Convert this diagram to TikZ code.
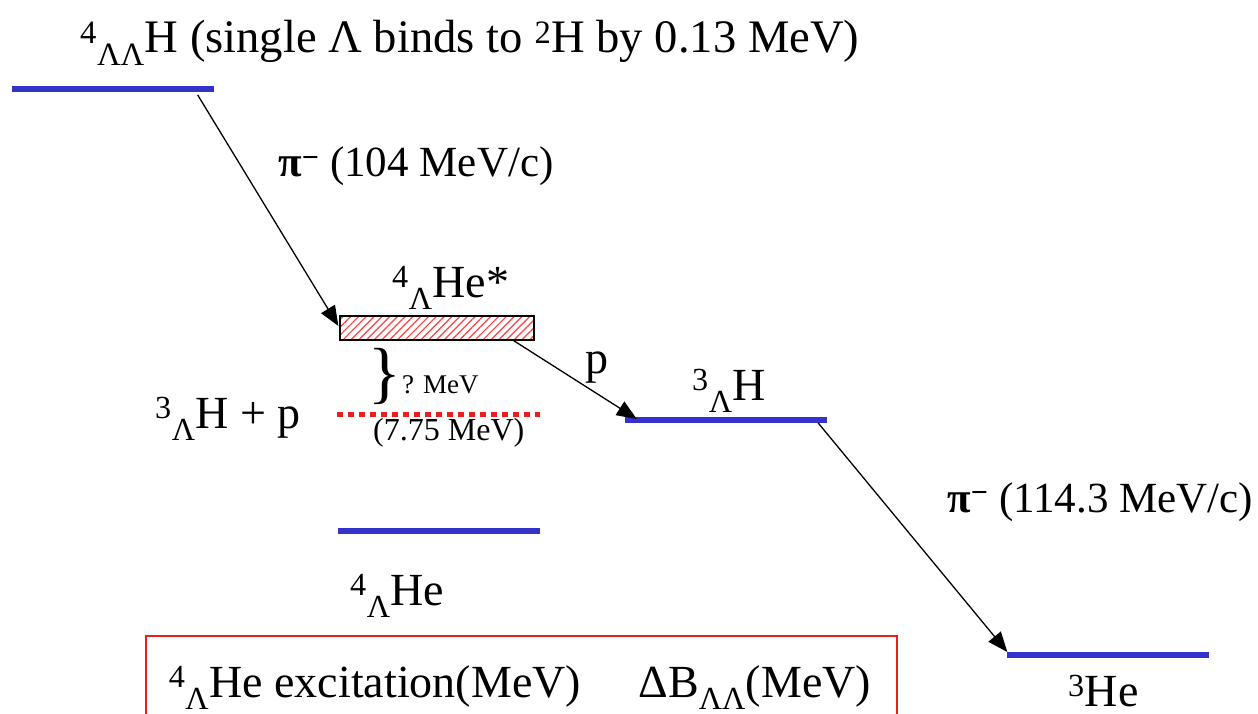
\documentclass[tikz,border=0pt]{standalone}
\usepackage{fontspec}
\setmainfont{Liberation Serif}
\usepackage{tikz}
\usetikzlibrary{arrows.meta,positioning,calc,patterns.meta}
\definecolor{lvlblue}{RGB}{51,51,204}
\definecolor{boxred}{RGB}{235,30,30}

\begin{document}
\begin{tikzpicture}[
  x=1pt,y=-1pt,
  level/.style={rectangle,fill=lvlblue,minimum width=202pt,minimum height=6pt,inner sep=0pt},
  excbox/.style={rectangle,draw=black,line width=1.5pt,minimum width=194pt,minimum height=24pt,inner sep=0pt,
    pattern={Lines[angle=45,distance=5.5pt,line width=1.2pt]},pattern color=red!75},
  trans/.style={-{Triangle[length=20pt,width=16pt]},line width=1.3pt},
  lbl/.style={font=\fontsize{46}{55}\selectfont,inner sep=0pt,anchor=base west},
  pilbl/.style={font=\fontsize{43}{52}\selectfont,inner sep=0pt,anchor=base west},
  small/.style={font=\fontsize{#1}{#1}\selectfont,inner sep=0pt,anchor=base west},
  tabbox/.style={rectangle,draw=boxred,line width=2pt,minimum width=751pt,minimum height=110pt,inner sep=0pt}
]
  \clip (0,0) rectangle (1258,714);

  % levels
  \node[level] (hh) at (112.5,89) {};
  \node[excbox] (exc) at (437,328) {};
  \node[level] (he4) at (438.5,531) {};
  \node[level] (h3) at (726,420) {};
  \node[level] (he3) at (1107.5,655) {};
  \coordinate (thl) at (337,414);
  \coordinate (thr) at (540,414);
  \draw[boxred,line width=5pt,dash pattern=on 6pt off 5pt] (thl) -- (thr);

  % labels
  \node[lbl,font=\fontsize{46.6}{55}\selectfont] (hhlbl) at (80,53) {\textsuperscript{4}\textsubscript{ΛΛ}H (single Λ binds to \textsuperscript{2}H by 0.13 MeV)};
  \node[pilbl] (pi1) at (278,177) {\textbf{π}\textsuperscript{\textbf{−}} (104 MeV/c)};
  \node[lbl] (exclbl) at (392,297) {\textsuperscript{4}\textsubscript{Λ}He*};
  \node[font=\fontsize{68}{68}\selectfont,inner sep=0pt] (brc) at (385,376) {\}};
  \node[small=27] (qmev) at (402,393) {? MeV};
  \node[small=32] (thlbl) at (373,440) {(7.75 MeV)};
  \node[lbl] (h3plbl) at (155,428) {\textsuperscript{3}\textsubscript{Λ}H + p};
  \node[lbl] (he4lbl) at (350,605) {\textsuperscript{4}\textsubscript{Λ}He};
  \node[lbl] (plbl) at (585,373) {p};
  \node[lbl] (h3lbl) at (692,400) {\textsuperscript{3}\textsubscript{Λ}H};
  \node[pilbl] (pi2) at (947,512) {\textbf{π}\textsuperscript{\textbf{−}} (114.3 MeV/c)};
  \node[lbl] (he3lbl) at (1068,706) {\textsuperscript{3}He};

  % table header
  \node[tabbox] (tab) at (521.5,691) {};
  \node[lbl,anchor=base] (tabtxt) at (520,697) {\textsuperscript{4}\textsubscript{Λ}He excitation(MeV)\quad\ ΔB\textsubscript{ΛΛ}(MeV)};

  % decays
  \draw[trans] ($(hh.east)+(-16,6)$) -- ($(exc.west)+(-1,-2)$);
  \draw[trans] ($(exc.south east)+(-21,0)$) -- ($(h3.west)+(12,-1)$);
  \draw[trans] ($(h3.east)+(-9,3)$) -- ($(he3.west)+(1,-3)$);
\end{tikzpicture}
\end{document}
